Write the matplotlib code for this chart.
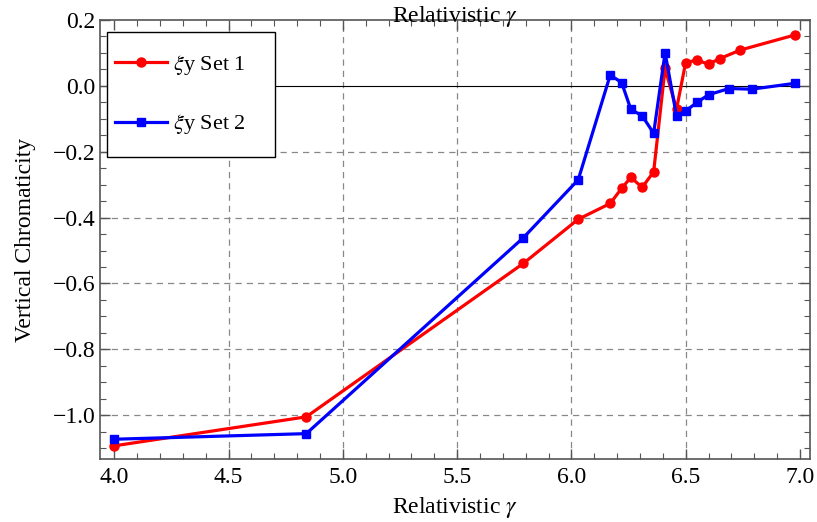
import matplotlib
matplotlib.use("Agg")
import matplotlib.pyplot as plt
from matplotlib.patches import Rectangle
from matplotlib.ticker import MultipleLocator

plt.rcParams["font.family"] = ["Liberation Serif", "DejaVu Serif"]
plt.rcParams["mathtext.fontset"] = "stix"

# ── data ─────────────────────────────────────────────────────────────────────
gamma_set1 = [4.00, 4.84, 5.79, 6.03, 6.17, 6.22, 6.26, 6.31, 6.36, 6.41,
              6.46, 6.50, 6.55, 6.60, 6.65, 6.74, 6.98]
xi_set1 = [-1.093, -1.005, -0.539, -0.405, -0.357, -0.311, -0.278, -0.308,
           -0.261, 0.053, -0.071, 0.071, 0.078, 0.066, 0.083, 0.109, 0.155]

gamma_set2 = [4.00, 4.84, 5.79, 6.03, 6.17, 6.22, 6.26, 6.31, 6.36, 6.41,
              6.46, 6.50, 6.55, 6.60, 6.69, 6.79, 6.98]
xi_set2 = [-1.073, -1.056, -0.461, -0.285, 0.033, 0.010, -0.071, -0.091,
           -0.144, 0.101, -0.091, -0.076, -0.050, -0.027, -0.008, -0.010, 0.008]

x_grid = [4.5, 5.0, 5.5, 6.0, 6.5]
y_grid = [-1.0, -0.8, -0.6, -0.4, -0.2]

fig = plt.figure(figsize=(8.17, 5.22), dpi=100)
ax = fig.add_axes([0.1224, 0.1207, 0.869, 0.841])

frame = "#555555"
for g in x_grid:
    ax.axvline(g, color="#888888", linestyle=(0, (5, 4)), linewidth=0.9, zorder=0)
for g in y_grid:
    ax.axhline(g, color="#888888", linestyle=(0, (5, 4)), linewidth=0.9, zorder=0)
ax.axhline(0.0, color="black", linewidth=0.8, zorder=1)

ax.plot(gamma_set1, xi_set1, color="red", linewidth=2.3, marker="o",
        markersize=6.5, label=r"$\xi$y Set 1", zorder=3)
ax.plot(gamma_set2, xi_set2, color="blue", linewidth=2.3, marker="s",
        markersize=5.5, label=r"$\xi$y Set 2", zorder=3)

ax.set_xlim(3.9375, 7.044)
ax.set_ylim(-1.133, 0.2001)
ax.xaxis.set_major_locator(MultipleLocator(0.5))
ax.xaxis.set_minor_locator(MultipleLocator(0.1))
ax.yaxis.set_major_locator(MultipleLocator(0.2))
ax.yaxis.set_minor_locator(MultipleLocator(0.05))
ax.xaxis.set_major_formatter(plt.FuncFormatter(lambda v, p: f"{v:.1f}"))
ax.yaxis.set_major_formatter(plt.FuncFormatter(
    lambda v, p: f"{v:.1f}".replace("-", "\u2212") if abs(v) > 1e-9 else "0.0"))

ax.tick_params(which="both", direction="in", top=True, right=True,
               color=frame, labelsize=17)
ax.tick_params(which="major", length=7, width=1.0)
ax.tick_params(which="minor", length=4, width=0.8)
ax.tick_params(axis="x", pad=6)
for s in ax.spines.values():
    s.set_color(frame)
    s.set_linewidth(1.2)

ax.set_xlabel(r"Relativistic $\gamma$", fontsize=17, labelpad=5)
ax.set_ylabel("Vertical Chromaticity", fontsize=17, labelpad=12)
ax.text(0.5, 0.995, r"Relativistic $\gamma$", transform=ax.transAxes,
        ha="center", va="baseline", fontsize=17)

# legend box drawn separately (Mathematica-style tall box, tight sides)
ax.add_patch(Rectangle((0.0099, 0.688), 0.2366, 0.2847, transform=ax.transAxes,
                       facecolor="white", edgecolor="black", linewidth=1.0,
                       zorder=4))
leg = ax.legend(loc="upper left", bbox_to_anchor=(0.0211, 0.925), fontsize=16,
                frameon=False, handlelength=2.35, borderpad=0.0,
                labelspacing=1.6, handletextpad=0.25, borderaxespad=0.0)
leg.set_zorder(5)

fig.savefig("out.png", dpi=100)
